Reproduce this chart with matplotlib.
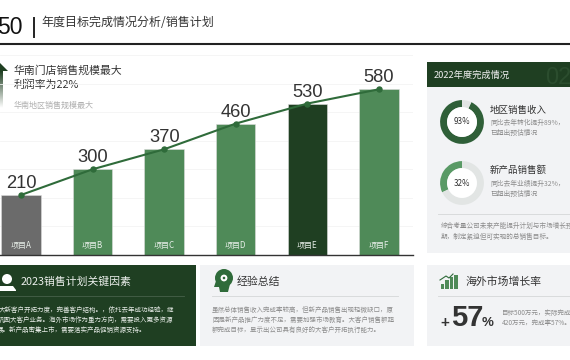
import numpy as np
import matplotlib
matplotlib.use('Agg')
import matplotlib.pyplot as plt
from matplotlib.patches import Rectangle, Circle, Polygon

plt.rcParams['font.family'] = ['Noto Sans CJK SC', 'DejaVu Sans']

projects = ['项目A', '项目B', '项目C', '项目D', '项目E', '项目F']
sales = [210, 300, 370, 460, 530, 580]
bar_colors = ['#6b6b6b', '#4f8a58', '#4f8a58', '#4f8a58', '#1f3f22', '#4f8a58']
donut_values = [93, 32]
donut_colors = ['#2f5f38', '#5a9a66']
growth_heights = [5, 9, 12, 14]

DARK = '#1f3f22'
GREEN = '#2f6b3a'
PANEL = '#f2f3f5'
GREY = '#8c8c8c'
LATIN = ['Liberation Sans', 'DejaVu Sans']

W, H = 570, 360
fig = plt.figure(figsize=(5.7, 3.6), dpi=100, facecolor='white')

def px_axes(x0, y0, x1, y1, **kw):
    return fig.add_axes([x0/W, 1 - y1/H, (x1-x0)/W, (y1-y0)/H], **kw)

# page layer in pixel coordinates
bg = px_axes(0, 0, W, H)
bg.set_xlim(0, W); bg.set_ylim(H, 0); bg.axis('off')

def panel(x0, y0, x1, y1, color):
    bg.add_patch(Rectangle((x0, y0), x1-x0, y1-y0, fc=color, ec='none'))

def txt(x, y, s, size, color='#333333', **kw):
    bg.text(x, y, s, fontsize=size, color=color, va='center', ha=kw.pop('ha', 'left'), **kw)

# header
txt(-3, 28, '50', 16.5, '#111111', family=LATIN)
bg.plot([34, 34], [18, 37], color='#222222', lw=1.4)
txt(41, 23, '年度目标完成情况分析/销售计划', 8.65, '#333333')
bg.plot([0, W], [44, 44], color='#222222', lw=1.5)

# chart
ax = px_axes(0, 55, 413, 255)
ax.patch.set_alpha(0)
ax.set_zorder(2)
x = np.arange(len(sales))
ax.bar(x, sales, width=0.55, color=bar_colors, edgecolor='#dddddd', linewidth=0.4, zorder=2)
ax.plot(x, sales, color=GREEN, lw=1.5, marker='o', ms=3.6, zorder=3)
ax.set_xlim(-0.293, 5.475)
ax.set_ylim(0, 700)
ax.set_yticks(np.arange(0, 701, 100))
ax.grid(axis='y', color='#f4f4f4', lw=0.6)
ax.set_axisbelow(True)
ax.tick_params(left=False, bottom=False, labelleft=False, labelbottom=False)
for s in ['top', 'left', 'right']:
    ax.spines[s].set_visible(False)
ax.spines['bottom'].set_color('#333333')
ax.spines['bottom'].set_linewidth(1.0)
for i, v in enumerate(sales):
    ax.annotate(str(v), (i, v), xytext=(0, 2.2), textcoords='offset points', ha='center', va='bottom',
                fontsize=13.2, color='#333333', family=LATIN)
    ax.annotate(projects[i], (i, 0), xytext=(0, 6.5), textcoords='offset points', ha='center', va='center',
                fontsize=5.8, color='#e8efe9')

# callout top left
grad = np.linspace(0, 1, 64).reshape(-1, 1)
bg.imshow(grad, extent=(0, 3, 108, 71), cmap=matplotlib.colors.LinearSegmentedColormap.from_list('g', [DARK, '#ffffff']),
          aspect='auto', zorder=1)
bg.set_xlim(0, W); bg.set_ylim(H, 0)
bg.add_patch(Polygon([[0, 63], [8, 71], [0, 71]], fc=DARK, ec='none'))
txt(14, 70, '华南门店销售规模最大', 7.8)
txt(14, 85, '利润率为22%', 7.8)
txt(14, 105, '华南地区销售规模最大', 5.8, '#b0b0b0')

# right panel
panel(427, 62, W, 253, PANEL)
panel(427, 62, W, 87, DARK)
txt(434, 75, '2022年度完成情况', 6.7, '#f0f0f0')
txt(545, 78, '02', 17, '#2b4d2e', family=LATIN)

def donut(cx, cy, value, color):
    d = px_axes(cx-23, cy-23, cx+23, cy+23)
    d.set_zorder(2)
    d.pie([value, 100-value], colors=[color, '#e2e5e4'], startangle=90, counterclock=True,
          radius=1.0, wedgeprops=dict(width=0.32, edgecolor='none'))
    d.add_patch(Circle((0, 0), 0.68, fc='white', ec='none'))
    d.text(0, 0, f'{value}%', ha='center', va='center', fontsize=5.8, color='#333333')
    d.set_xlim(-1.05, 1.05); d.set_ylim(-1.05, 1.05)

donut(462, 122, donut_values[0], donut_colors[0])
donut(462, 183, donut_values[1], donut_colors[1])
txt(490, 110, '地区销售收入', 6.8)
txt(490, 123, '同比去年转化提升89%，', 4.9, GREY)
txt(490, 133, '已超出预估情况', 4.9, GREY)
txt(490, 170, '新产品销售额', 6.8)
txt(490, 184, '同比去年业绩提升32%，', 4.9, GREY)
txt(490, 194, '已超出预估情况', 4.9, GREY)
bg.plot([438, W], [214, 214], color='#d9dbdc', lw=0.7)
txt(441, 226, '综合考量公司未来产能提升计划与市场增长预', 4.8, GREY)
txt(441, 237, '期，制定紧迫但可实现的总销售目标。', 4.8, GREY)

# bottom panels
panel(0, 265, 196, 346, DARK)
panel(200, 265, 414, 346, PANEL)
panel(427, 265, W, 346, PANEL)

# person icon
bg.add_patch(Circle((7, 279), 5, fc='white', ec='none'))
bg.add_patch(Polygon([[0, 286], [13, 286], [16, 290], [16, 291], [0, 291]], fc='white', ec='none'))
txt(21, 282, '2023销售计划关键因素', 7.8, '#ecefec')
bg.plot([0, 184], [296, 296], color='#47614a', lw=0.6)
txt(-1, 310, '大新客户开拓力度，完善客户结构。，依托去年成功经验，继', 4.7, '#e6ebe6')
txt(-2, 320, '巩固大客户业务。海外市场作为重力方向，需要投入更多资源', 4.7, '#e6ebe6')
txt(-3, 330, '展。新产品密集上市，需要落实产品促销资源支持。', 4.7, '#e6ebe6')

# head with gear icon
bg.add_patch(Circle((224, 278), 9, fc=GREEN, ec='none'))
bg.add_patch(Polygon([[216, 281], [214, 287], [219, 287], [220, 292], [228, 292], [230, 284]], fc=GREEN, ec='none'))
bg.add_patch(Circle((224, 278), 3.4, fc='white', ec='none'))
bg.add_patch(Circle((224, 278), 1.3, fc=GREEN, ec='none'))
txt(237, 282, '经验总结', 7.8)
bg.plot([212, 398], [296, 296], color='#d9dbdc', lw=0.7)
txt(212, 310, '虽然总体销售收入完成率较高，但新产品销售出现轻微缺口，原', 4.65, GREY)
txt(212, 320, '因是新产品推广力度不足，需要加强市场教育。大客户销售额超', 4.65, GREY)
txt(212, 330, '额完成目标，显示出公司具有良好的大客户开拓执行能力。', 4.65, GREY)

# growth icon
for i, h_ in enumerate(growth_heights):
    bg.add_patch(Rectangle((440.5 + i*4.6, 289 - h_), 3.6, h_, fc='#4f8a58', ec='none'))
bg.plot([440, 446, 449, 453], [280, 276, 278, 274], color=GREEN, lw=0.8)
txt(465, 282, '海外市场增长率', 7.8)
bg.plot([438, W], [296, 296], color='#d9dbdc', lw=0.7)
txt(440, 323, '+', 11, '#333333', family=LATIN, fontweight='bold')
txt(451, 318, '57', 21, '#333333', family=LATIN, fontweight='bold')
txt(482, 323, '%', 9.5, '#333333', family=LATIN, fontweight='bold')
txt(502, 313, '目标500万元，实际完成', 4.7, GREY)
txt(502, 323, '420万元，完成率57%。', 4.7, GREY)

fig.savefig('out.png', dpi=100)
